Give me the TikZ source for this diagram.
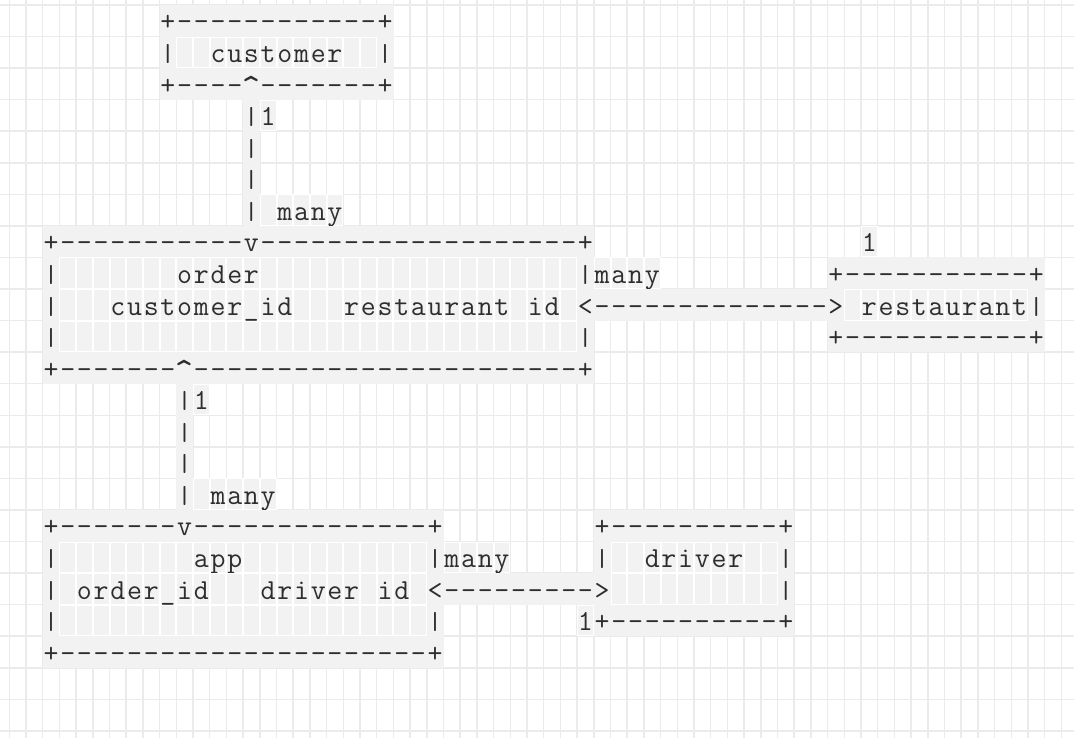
\documentclass[tikz,border=0pt]{standalone}
\usepackage{graphicx}
\definecolor{gridc}{HTML}{EBEBEB}
\definecolor{cellc}{HTML}{F2F2F2}
\definecolor{inkc}{HTML}{2E2E2E}
\newcommand\asctt{\fontsize{29}{29}\selectfont\ttfamily}
\newcommand\AscBar{\smash{\raisebox{1pt}{\scalebox{1}[0.85]{|}}}}
\newcommand\AscCaret{\smash{\raisebox{-7.5pt}{\scalebox{1.2}[1.4]{\string^}}}}
\tikzset{
  ascglyph/.style={anchor=base, inner sep=0pt, outer sep=0pt, font=\asctt, text=inkc},
  gridline/.style={draw=gridc, line width=1.5pt}
}
% one cell of the character grid: column #2, row #1
\newcommand\AscSolid[2]{\fill[cellc] ({9.3+16.7*#2},{5+31.56*#1}) rectangle ++(16.9,31.56);}
\newcommand\AscInset[2]{\fill[white] ({9.3+16.7*#2},{5+31.56*#1}) rectangle ++(16.7,31.56);
  \fill[cellc] ({9.3+16.7*#2+1},{5+31.56*#1+1}) rectangle ++(14.7,29.56);}
\newcommand\AscChar[3]{\node[ascglyph, name=ch-#1-#2] at ({17.65+16.7*#2},{5+31.56*#1+26}) {#3};}
\ExplSyntaxOn
\int_new:N \l__asc_col_int
\tl_new:N \l__asc_row_tl
\cs_new:Npn \Rp #1#2 { \prg_replicate:nn {#1} {#2} }
\cs_new_protected:Npn \__asc_solid:nnn #1#2#3 { \AscSolid {#1} {#2} \AscChar {#1} {#2} {#3} }
\cs_new_protected:Npn \__asc_cell:nnn #1#2#3
  {
    \str_case:nnF {#3}
      {
        {.} { }
        {:} { \AscInset {#1} {#2} }
        {V} { \__asc_solid:nnn {#1} {#2} {v} }
        {+} { \__asc_solid:nnn {#1} {#2} {#3} }
        {-} { \__asc_solid:nnn {#1} {#2} {#3} }
        {|} { \__asc_solid:nnn {#1} {#2} { \AscBar } }
        {<} { \__asc_solid:nnn {#1} {#2} {#3} }
        {>} { \__asc_solid:nnn {#1} {#2} {#3} }
        {^} { \__asc_solid:nnn {#1} {#2} { \AscCaret } }
      }
      { \AscInset {#1} {#2} \AscChar {#1} {#2} {#3} }
  }
\NewDocumentCommand \AscRow { m m }
  {
    \tl_set:Nx \l__asc_row_tl {#2}
    \int_zero:N \l__asc_col_int
    \exp_args:No \str_map_inline:nn { \l__asc_row_tl }
      {
        \exp_args:NnV \__asc_cell:nnn {#1} \l__asc_col_int {##1}
        \int_incr:N \l__asc_col_int
      }
  }
\ExplSyntaxOff
\begin{document}
\begin{tikzpicture}[x=1pt, y=-1pt]
\useasboundingbox (0,0) rectangle (1074,738);
\fill[white] (0,0) rectangle (1074,738);
\foreach \i in {0,...,63} \draw[gridline] ({9.3+16.7*\i},0) -- ({9.3+16.7*\i},738);
\foreach \j in {0,...,23} \draw[gridline] (0,{5+31.56*\j}) -- (1074,{5+31.56*\j});
% '.' = empty cell, ':' = blank cell inside a box, V = arrow head v
\AscRow{0}{\Rp{9}{.}+\Rp{12}{-}+}
\AscRow{1}{\Rp{9}{.}|::customer::|}
\AscRow{2}{\Rp{9}{.}+----^\Rp{7}{-}+}
\AscRow{3}{\Rp{14}{.}|1}
\AscRow{4}{\Rp{14}{.}|}
\AscRow{5}{\Rp{14}{.}|}
\AscRow{6}{\Rp{14}{.}|:many}
\AscRow{7}{..+\Rp{11}{-}V\Rp{19}{-}+\Rp{16}{.}1}
\AscRow{8}{..|\Rp{7}{:}order\Rp{19}{:}|many\Rp{10}{.}+\Rp{11}{-}+}
\AscRow{9}{..|:::customer_id:::restaurant:id:<\Rp{14}{-}>:restaurant|}
\AscRow{10}{..|\Rp{31}{:}|\Rp{14}{.}+\Rp{11}{-}+}
\AscRow{11}{..+\Rp{7}{-}^\Rp{23}{-}+}
\AscRow{12}{\Rp{10}{.}|1}
\AscRow{13}{\Rp{10}{.}|}
\AscRow{14}{\Rp{10}{.}|}
\AscRow{15}{\Rp{10}{.}|:many}
\AscRow{16}{..+\Rp{7}{-}V\Rp{14}{-}+\Rp{9}{.}+\Rp{10}{-}+}
\AscRow{17}{..|\Rp{8}{:}app\Rp{11}{:}|many\Rp{5}{.}|::driver::|}
\AscRow{18}{..|:order_id:::driver:id:<\Rp{9}{-}>\Rp{10}{:}|}
\AscRow{19}{..|\Rp{22}{:}|\Rp{8}{.}1+\Rp{10}{-}+}
\AscRow{20}{..+\Rp{22}{-}+}
\end{tikzpicture}
\end{document}
